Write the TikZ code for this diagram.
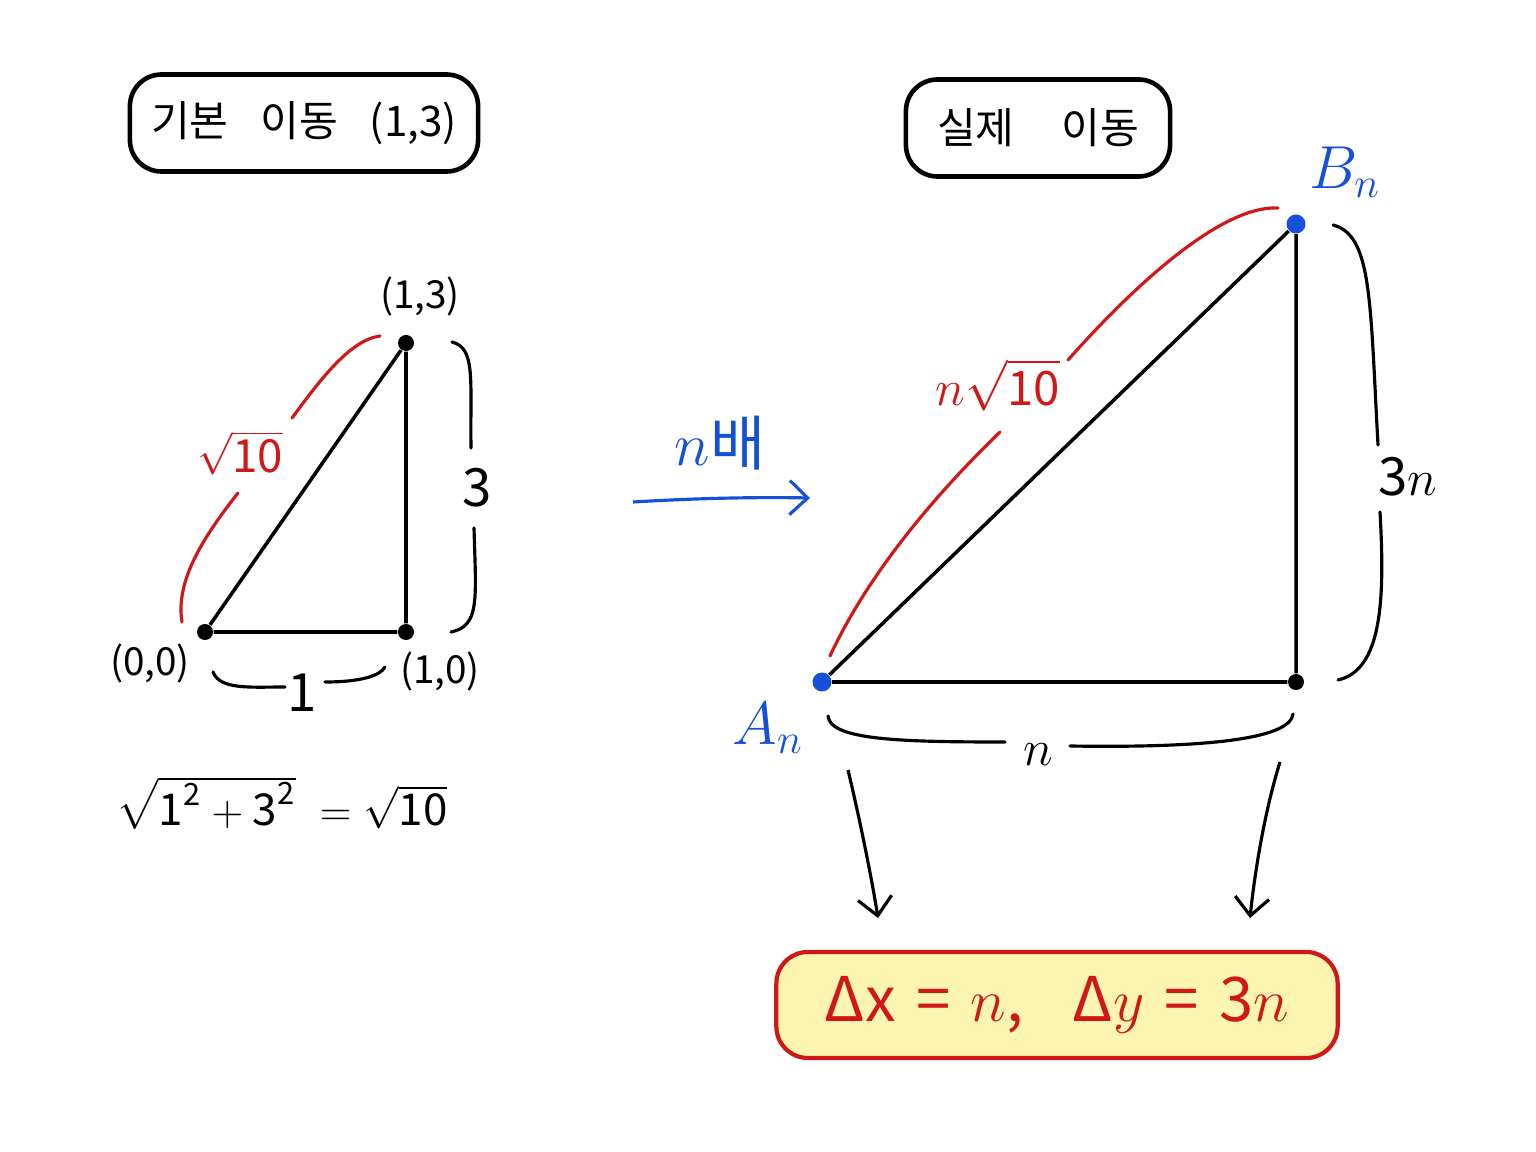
\documentclass[tikz,border=0pt]{standalone}
\usepackage{amsmath}
\usepackage{fontspec}
\setmainfont{Noto Sans CJK KR}
\usetikzlibrary{arrows.meta}
\definecolor{inkred}{HTML}{D01818}
\definecolor{inkblue}{HTML}{1550D8}
\definecolor{paleyellow}{HTML}{FCF5B2}
\newcommand{\tx}[1]{\text{#1}}
\tikzset{
  titlebox/.style={draw=black, line width=1.3pt, rounded corners=9pt, inner sep=0pt, font=\fontsize{12}{15}\selectfont},
  resultbox/.style={draw=inkred, fill=paleyellow, line width=1.2pt, rounded corners=9pt, inner sep=0pt, text=inkred, font=\fontsize{17.5}{21}\selectfont},
  side/.style={line width=1pt, black},
  dot/.style={circle, fill=black, inner sep=0pt, minimum size=0.16cm},
  bdot/.style={circle, fill=inkblue, inner sep=0pt, minimum size=0.19cm},
  brace/.style={line width=0.9pt, black, line cap=round},
  redarc/.style={line width=0.9pt, inkred, line cap=round},
  coordlabel/.style={font=\fontsize{11}{13}\selectfont},
  sizelabel/.style={font=\fontsize{15}{18}\selectfont},
  redlabel/.style={text=inkred, font=\fontsize{13.5}{16}\selectfont},
  pointer/.style={line width=0.9pt, -{Straight Barb[length=1.8mm,width=3.4mm]}},
}
\begin{document}
\begin{tikzpicture}[x=0.01cm,y=-0.01cm]
\useasboundingbox (0,0) rectangle (1536,1152);
% title boxes
\node[titlebox, minimum width=3.48cm, minimum height=0.97cm] (tleft) at (304,123) {기본\hspace{0.75em}이동\hspace{0.75em}(1,3)};
\node[titlebox, minimum width=2.64cm, minimum height=0.97cm] (tright) at (1038,128) {실제\hspace{1.1em}이동};
% left triangle
\node[dot] (O) at (205,632) {};
\node[dot] (P) at (406,632) {};
\node[dot] (Q) at (406,343) {};
\draw[side] (O) -- (P) -- (Q) -- (O);
\node[coordlabel] (lq) at (420,296) {(1,3)};
\node[coordlabel] (lo) at (150,663) {(0,0)};
\node[coordlabel] (lp) at (440,671) {(1,0)};
% left braces
\draw[brace] (452,342) .. controls (476,348) and (470,380) .. (471,448);
\draw[brace] (474,528) .. controls (476,600) and (480,626) .. (451,632);
\node[sizelabel] (l3) at (477,488) {3};
\draw[brace] (213,672) .. controls (220,690) and (250,687) .. (285,687);
\draw[brace] (325,682) .. controls (360,682) and (380,676) .. (385,667);
\node[sizelabel] (l1) at (302,693) {1};
% left red arc
\draw[redarc] (182,622) .. controls (175,580) and (205,535) .. (238,493);
\draw[redarc] (292,418) .. controls (320,380) and (350,340) .. (380,336);
\node[redlabel, font=\fontsize{13}{16}\selectfont] (lsq) at (240,453) {$\sqrt{\tx{10}}$};
% formula
\node[font=\fontsize{12.5}{15}\selectfont] (formula) at (282,803) {$\sqrt{\tx{1}^{\tx{2}}+\tx{3}^{\tx{2}}}\;=\sqrt{\tx{10}}$};
% blue arrow
\coordinate (ba) at (633,502);
\coordinate (bb) at (810,498);
\draw[pointer, inkblue] (ba) .. controls (700,498) and (760,497) .. (bb);
\node[text=inkblue, font=\fontsize{17}{20}\selectfont] (nbae) at (720,443) {$n$배};
% right triangle
\node[bdot] (A) at (822,682) {};
\node[dot] (C) at (1296,682) {};
\node[bdot] (B) at (1296,224) {};
\draw[side] (A) -- (C) -- (B) -- (A);
\node[text=inkblue, font=\fontsize{18}{21}\selectfont] (lA) at (768,728) {$A_n$};
\node[text=inkblue, font=\fontsize{18}{21}\selectfont] (lB) at (1345,172) {$B_n$};
% right braces
\draw[brace] (1333,225) .. controls (1372,235) and (1370,300) .. (1378,445);
\draw[brace] (1380,512) .. controls (1385,600) and (1382,670) .. (1338,680);
\node[sizelabel] (l3n) at (1408,477) {3$n$};
\draw[brace] (828,716) .. controls (830,740) and (900,742) .. (1005,742);
\draw[brace] (1070,746) .. controls (1200,748) and (1290,740) .. (1293,714);
\node[sizelabel] (ln) at (1038,755) {$n$};
% right red arc
\draw[redarc] (830,656) .. controls (870,570) and (940,490) .. (1000,432);
\draw[redarc] (1068,360) .. controls (1130,290) and (1220,205) .. (1278,208);
\node[redlabel] (rsq) at (998,385) {$n\sqrt{\tx{10}}$};
% result box
\node[resultbox, minimum width=5.61cm, minimum height=1.06cm] (res) at (1057,1005) {Δx\,\,=\,\,$n$,\hspace{0.8em}Δ$y$\,\,=\,\,3$n$};
% down arrows
\coordinate (d1s) at (848,770);
\coordinate (d1e) at (878,918);
\coordinate (d2s) at (1280,762);
\coordinate (d2e) at (1250,918);
\draw[pointer] (d1s) .. controls (860,820) and (872,880) .. (d1e);
\draw[pointer] (d2s) .. controls (1265,810) and (1255,870) .. (d2e);
\end{tikzpicture}
\end{document}
